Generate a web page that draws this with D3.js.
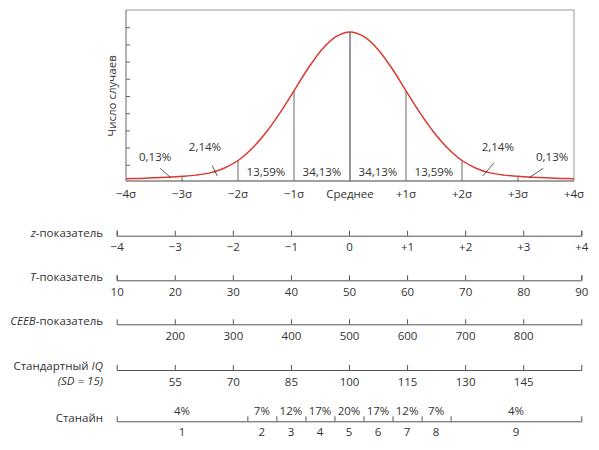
<!DOCTYPE html>
<html lang="ru">
<head>
  <meta charset="UTF-8">
  <title>Нормальное распределение и шкалы</title>
  <script src="https://d3js.org/d3.v7.min.js"></script>
  <style>
    body { margin: 0; background: #fff; }
    text { font-family: "Open Sans", "Noto Sans", sans-serif; font-size: 11.5px; fill: #333; }
    .scale-row path, .scale-row line { stroke: #555; stroke-width: 1; }
    .scale-row text { font-family: "Open Sans", "Noto Sans", sans-serif; font-size: 11.5px; fill: #333; }
  </style>
</head>
<body>
<div id="chart"></div>
<script>
  // --- data ---
  const sigmaTicks = [-4, -3, -2, -1, 0, 1, 2, 3, 4];
  const sigmaLabels = ["\u22124\u03c3", "\u22123\u03c3", "\u22122\u03c3", "\u22121\u03c3", "Среднее", "+1\u03c3", "+2\u03c3", "+3\u03c3", "+4\u03c3"];

  // curve, in units of the left axis ticks
  const curveZ = [-4, -3.75, -3.5, -3.25, -3, -2.75, -2.5, -2.25, -2, -1.75, -1.5, -1.25, -1, -0.75, -0.5, -0.25,
                  0, 0.25, 0.5, 0.75, 1, 1.25, 1.5, 1.75, 2, 2.25, 2.5, 2.75, 3, 3.25, 3.5, 3.75, 4];
  const curveCases = [0.19, 0.21, 0.24, 0.28, 0.33, 0.4, 0.53, 0.8, 1.25, 1.95, 2.88, 4.02, 5.3, 6.6, 7.71, 8.45,
                      8.72, 8.45, 7.71, 6.6, 5.3, 4.02, 2.88, 1.95, 1.25, 0.8, 0.53, 0.4, 0.33, 0.28, 0.24, 0.21, 0.19];
  const yTicks = [1, 2, 3, 4, 5, 6, 7, 8, 9];
  const dividerZ = [-3, -2, -1, 0, 1, 2, 3];

  const bandZ = [-1.5, -0.5, 0.5, 1.5];
  const bandLabels = ["13,59%", "34,13%", "34,13%", "13,59%"];

  // tail call-outs: label position and leader line, in (z, cases)
  const calloutLabels = ["0,13%", "2,14%", "2,14%", "0,13%"];
  const calloutAt = [[-3.48, 1.45], [-2.59, 2.03], [2.64, 2.03], [3.61, 1.45]];
  const leaderFrom = [[-3.39, 0.8], [-2.46, 0.95], [2.57, 1.1], [3.45, 0.8]];
  const leaderTo = [[-3.2, 0.25], [-2.37, 0.35], [2.37, 0.35], [3.2, 0.25]];

  // score scales
  const zScores = [-4, -3, -2, -1, 0, 1, 2, 3, 4];
  const zScoreLabels = ["\u22124", "\u22123", "\u22122", "\u22121", "0", "+1", "+2", "+3", "+4"];
  const tScores = [10, 20, 30, 40, 50, 60, 70, 80, 90];
  const ceebScores = [200, 300, 400, 500, 600, 700, 800];
  const iqScores = [55, 70, 85, 100, 115, 130, 145];
  const stanineCuts = [-1.75, -1.25, -0.75, -0.25, 0.25, 0.75, 1.25, 1.75];
  const stanines = [1, 2, 3, 4, 5, 6, 7, 8, 9];
  const staninePct = ["4%", "7%", "12%", "17%", "20%", "17%", "12%", "7%", "4%"];

  // --- layout ---
  const width = 599, height = 450;
  const svg = d3.select("#chart").append("svg")
    .attr("width", width)
    .attr("height", height);

  const plotLeft = 126, plotRight = 574, plotTop = 10, baseY = 181;
  const x = d3.scaleLinear().domain([-4, 4]).range([plotLeft, plotRight]);
  const y = d3.scaleLinear().domain([0, 10]).range([182, plotTop]);

  // frame: light top and right edges
  svg.append("path")
    .attr("d", `M${plotLeft},${plotTop}H${plotRight}V${baseY}`)
    .attr("fill", "none")
    .attr("stroke", "#999");

  // left axis, ticks pointing inward
  const yAxis = svg.append("g")
    .attr("transform", `translate(${plotLeft},0)`)
    .call(d3.axisRight(y).tickValues(yTicks).tickSize(4).tickSizeOuter(0).tickFormat(""));
  yAxis.select(".domain").remove();
  yAxis.selectAll("line").attr("stroke", "#666");
  svg.append("line")
    .attr("x1", plotLeft).attr("x2", plotLeft)
    .attr("y1", plotTop).attr("y2", baseY)
    .attr("stroke", "#666");

  // dividers at each sigma
  svg.selectAll(".divider")
    .data(dividerZ)
    .enter()
    .append("line")
    .attr("class", "divider")
    .attr("x1", d => x(d)).attr("x2", d => x(d))
    .attr("y1", baseY)
    .attr("y2", d => y(curveCases[curveZ.indexOf(d)]))
    .attr("stroke", d => d === 0 ? "#333" : "#666");

  // baseline
  svg.append("line")
    .attr("x1", plotLeft).attr("x2", plotRight)
    .attr("y1", baseY).attr("y2", baseY)
    .attr("stroke", "#444");

  // curve
  const line = d3.line()
    .x((d, i) => x(curveZ[i]))
    .y(d => y(d))
    .curve(d3.curveCatmullRom);
  svg.append("path")
    .datum(curveCases)
    .attr("d", line)
    .attr("fill", "none")
    .attr("stroke", "#d93a30")
    .attr("stroke-width", 1.5);

  // band labels
  svg.selectAll(".band")
    .data(bandLabels)
    .enter()
    .append("text")
    .attr("x", (d, i) => x(bandZ[i]))
    .attr("y", 176)
    .attr("text-anchor", "middle")
    .text(d => d);

  // tail call-outs
  svg.selectAll(".leader")
    .data(leaderFrom)
    .enter()
    .append("line")
    .attr("x1", d => x(d[0])).attr("y1", d => y(d[1]))
    .attr("x2", (d, i) => x(leaderTo[i][0])).attr("y2", (d, i) => y(leaderTo[i][1]))
    .attr("stroke", "#333")
    .attr("stroke-width", 0.8);
  svg.selectAll(".callout")
    .data(calloutLabels)
    .enter()
    .append("text")
    .attr("x", (d, i) => x(calloutAt[i][0]))
    .attr("y", (d, i) => y(calloutAt[i][1]))
    .attr("dy", "0.35em")
    .attr("text-anchor", "middle")
    .text(d => d);

  // sigma labels under the curve
  svg.selectAll(".sigma")
    .data(sigmaTicks)
    .enter()
    .append("text")
    .attr("x", d => x(d))
    .attr("y", 193.5)
    .attr("dy", "0.35em")
    .attr("text-anchor", "middle")
    .text((d, i) => sigmaLabels[i]);

  // y title
  svg.append("text")
    .attr("transform", "translate(112,96) rotate(-90)")
    .attr("dy", "0.35em")
    .attr("text-anchor", "middle")
    .text("Число случаев");

  // --- score rows ---
  const rowLeft = 116.7, rowRight = 581.3, labelRight = 103;

  function scaleRow(scale, ticks, fmt, lineY) {
    const g = svg.append("g")
      .attr("class", "scale-row")
      .attr("transform", `translate(0,${lineY})`)
      .call(d3.axisBottom(scale)
        .tickValues(ticks)
        .tickFormat(fmt)
        .tickSizeInner(-5)
        .tickSizeOuter(-5)
        .tickPadding(7.4));
    g.attr("font-size", null).attr("font-family", null);
    g.selectAll("text").attr("fill", null);
    return g;
  }

  function rowLabel(parts, labelY) {
    const t = svg.append("text")
      .attr("x", labelRight)
      .attr("y", labelY)
      .attr("dy", "0.35em")
      .attr("text-anchor", "end");
    parts.forEach(p => {
      t.append("tspan")
        .attr("font-style", p[1] ? "italic" : "normal")
        .text(p[0]);
    });
  }

  const zRow = d3.scaleLinear().domain([-4, 4]).range([rowLeft, rowRight]);
  scaleRow(zRow, zScores, (d, i) => zScoreLabels[i], 235.7);
  rowLabel([["z", true], ["-показатель", false]], 232.5);

  const tRow = d3.scaleLinear().domain([10, 90]).range([rowLeft, rowRight]);
  scaleRow(tRow, tScores, d => d, 280.3);
  rowLabel([["T", true], ["-показатель", false]], 277);

  const ceebRow = d3.scaleLinear().domain([100, 900]).range([rowLeft, rowRight]);
  scaleRow(ceebRow, ceebScores, d => d, 324.3);
  rowLabel([["CEEB", true], ["-показатель", false]], 321);

  const iqRow = d3.scaleLinear().domain([40, 160]).range([rowLeft, rowRight]);
  scaleRow(iqRow, iqScores, d => d, 370);
  rowLabel([["Стандартный ", false], ["IQ", true]], 366);
  rowLabel([["(SD = 15)", true]], 380.7);

  const stanineLineY = 421.3;
  scaleRow(zRow, stanineCuts, () => "", stanineLineY);
  rowLabel([["Станайн", false]], 418.3);

  const stanineEdges = [-4].concat(stanineCuts, [4]);
  const stanineMid = stanines.map((s, i) => (stanineEdges[i] + stanineEdges[i + 1]) / 2);

  svg.selectAll(".stanine-pct")
    .data(staninePct)
    .enter()
    .append("text")
    .attr("x", (d, i) => zRow(stanineMid[i]))
    .attr("y", stanineLineY - 10.3)
    .attr("dy", "0.35em")
    .attr("text-anchor", "middle")
    .text(d => d);

  svg.selectAll(".stanine-num")
    .data(stanines)
    .enter()
    .append("text")
    .attr("x", (d, i) => zRow(stanineMid[i]))
    .attr("y", stanineLineY + 11)
    .attr("dy", "0.35em")
    .attr("text-anchor", "middle")
    .text(d => d);
</script>
</body>
</html>
